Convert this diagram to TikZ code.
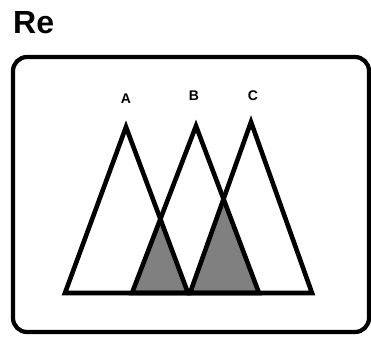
\documentclass[tikz,border=0pt]{standalone}
\usepackage{fontspec}
\setmainfont{Liberation Sans}
\usepackage{tikz}
\usetikzlibrary{calc}
\definecolor{overlapgray}{RGB}{128,128,128}

\begin{document}
\begin{tikzpicture}[x=1pt,y=-1pt,
          edge/.style={draw=black,line width=4.6pt,line join=miter},
          frame/.style={draw=black,line width=4.2pt,rounded corners=14pt},
          lab/.style={font=\bfseries\fontsize{14}{15}\selectfont,inner sep=0pt}]
        \useasboundingbox (0,0) rectangle (371,338);
        \node[font=\bfseries\fontsize{32}{34}\selectfont,anchor=base west,inner sep=0pt]
          (title) at (13,33) {Re};
        \draw[frame] (13,57) rectangle (369,332);
        % apexes and base corners
        \coordinate (a0) at (126,127);
        \coordinate (a1) at (65,293);
        \coordinate (a2) at (188,293);
        \coordinate (b0) at (196,126);
        \coordinate (b1) at (132,293);
        \coordinate (b2) at (259,293);
        \coordinate (c0) at (251,122);
        \coordinate (c1) at (190,293);
        \coordinate (c2) at (312,293);
        \coordinate (ab) at (intersection of a0--a2 and b0--b1);
        \coordinate (bc) at (intersection of b0--b2 and c0--c1);
        % overlaps
        \fill[overlapgray] (b1) -- (ab) -- (a2) -- cycle;
        \fill[overlapgray] (c1) -- (bc) -- (b2) -- cycle;
        \draw[edge] (a1) -- (a0) -- (a2) -- cycle;
        \draw[edge] (b1) -- (b0) -- (b2) -- cycle;
        \draw[edge] (c1) -- (c0) -- (c2) -- cycle;
        \draw[edge] (a1) -- (c2);
        \node[lab] (la) at (126,99) {A};
        \node[lab] (lb) at (194,96) {B};
        \node[lab] (lc) at (253,96) {C};
      \end{tikzpicture}
\end{document}
